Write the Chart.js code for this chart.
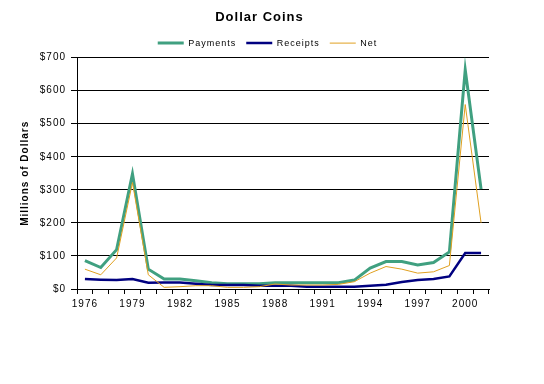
<!DOCTYPE html>
<html>
<head>
<meta charset="utf-8">
<script src="https://cdn.jsdelivr.net/npm/chart.js@4/dist/chart.umd.min.js"></script>
<style>
html,body{margin:0;padding:0;background:#fff;}
#wrap{width:544px;height:384px;position:relative;}
</style>
</head>
<body>
<div id="wrap"><canvas id="c" width="544" height="384"></canvas></div>
<script>
const years = ['1976','1977','1978','1979','1980','1981','1982','1983','1984','1985','1986','1987','1988','1989','1990','1991','1992','1993','1994','1995','1996','1997','1998','1999','2000','2001'];
const shownYears = ['1976','1979','1982','1985','1988','1991','1994','1997','2000'];
const payments = [86,65,119,348,60,30,30,25,19,16,16,16,19,19,19,19,19,27,63,83,83,73,80,112,663,302];
const receipts = [30,28,27,30,19,20,20,16,12,12,12,10,10,10,7,7,7,7,10,13,21,27,30,38,109,109];
const net = [60,43,94,322,43,5,7,10,10,5,5,7,15,12,12,12,14,22,48,68,60,48,52,71,558,200];
const yTicks = [0,100,200,300,400,500,600,700];

const FONT = "'Liberation Sans', Arial, sans-serif";
const spacingPlugin = {
  id: 'spacing',
  beforeInit(c){ c.ctx.letterSpacing = '1px'; },
  beforeUpdate(c){ c.ctx.letterSpacing = '1px'; },
  beforeDraw(c){ c.ctx.letterSpacing = '1px'; },
  afterLayout(c){
    if (c.titleBlock){ c.titleBlock.left += 15; c.titleBlock.right += 15; }
    if (c.legend){ c.legend.left += 23; c.legend.right += 23; }
  }
};

new Chart(document.getElementById('c'), {
  type: 'line',
  data: {
    labels: years,
    datasets: [
      {label:'Payments', data: payments, borderColor:'#40a080', backgroundColor:'#40a080', borderWidth:3, pointRadius:0, tension:0, order:3},
      {label:'Receipts', data: receipts, borderColor:'#000080', backgroundColor:'#000080', borderWidth:2.5, pointRadius:0, tension:0, order:2},
      {label:'Net', data: net, borderColor:'#e0a020', backgroundColor:'#e0a020', borderWidth:1, pointRadius:0, tension:0, order:1}
    ]
  },
  plugins: [spacingPlugin],
  options: {
    responsive: false,
    animation: false,
    devicePixelRatio: 1,
    layout: { padding: { left: 0, right: 55, top: 0, bottom: 71 } },
    plugins: {
      title: { display: true, text: 'Dollar Coins', color:'#000', font: { family: FONT, size: 13, weight: 'bold' }, padding: { top: 10, bottom: 3 } },
      legend: {
        display: true,
        labels: { color:'#000', font: { family: FONT, size: 9 }, usePointStyle: true, pointStyle: 'line', pointStyleWidth: 26, boxWidth: 26, boxHeight: 9, padding: 10,
          sort: (a, b) => a.datasetIndex - b.datasetIndex }
      },
      tooltip: { enabled: false }
    },
    scales: {
      x: {
        offset: true,
        grid: { offset: true, drawOnChartArea: false, drawTicks: true, tickLength: 5, color: '#000' },
        border: { display: true, color: '#000', width: 1 },
        ticks: {
          autoSkip: false, maxRotation: 0, minRotation: 0, padding: 4, color: '#000',
          font: { family: FONT, size: 10 },
          callback: function(v, i){ const l = years[i]; return shownYears.includes(l) ? l : ''; }
        },
        afterFit(s){ s.height = 24; }
      },
      y: {
        min: 0, max: 700,
        afterBuildTicks(s){ s.ticks = yTicks.map(v => ({value: v})); },
        grid: { color: '#000', lineWidth: 1, drawTicks: true, tickLength: 6 },
        border: { display: true, color: '#000', width: 1 },
        ticks: { color: '#000', padding: 5, font: { family: FONT, size: 10 }, callback: v => '$' + v },
        title: { display: true, text: 'Millions of Dollars', color: '#000', font: { family: FONT, size: 10, weight: 'bold' }, padding: { top: 19, bottom: 0 } },
        afterFit(s){ s.width = 77; }
      }
    }
  }
});
</script>
</body>
</html>
